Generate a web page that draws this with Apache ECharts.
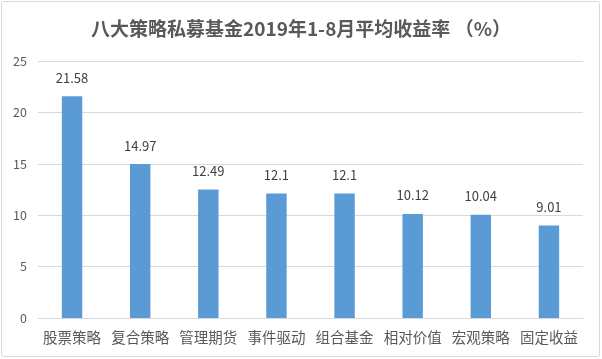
<!DOCTYPE html>
<html><head><meta charset="utf-8">
<script src="https://cdn.jsdelivr.net/npm/echarts@6/dist/echarts.min.js"></script>
<style>html,body{margin:0;padding:0;background:#fff}#c{width:602px;height:359px}</style>
</head><body><div id="c"></div>
<script>
const categories = ['股票策略','复合策略','管理期货','事件驱动','组合基金','相对价值','宏观策略','固定收益'];
const values = [21.58, 14.97, 12.49, 12.1, 12.1, 10.12, 10.04, 9.01];
const yTicks = [0, 5, 10, 15, 20, 25];
const titleText = '八大策略私募基金2019年1-8月平均收益率 （%）';
const font = '"Noto Sans CJK SC", "Noto Sans", sans-serif';
const chart = echarts.init(document.getElementById('c'));
chart.setOption({
  animation: false,
  textStyle: {fontFamily: font},
  graphic: [{type:'rect', shape:{x:1.5,y:1.5,width:598,height:355,r:2}, style:{fill:'none', stroke:'#d9d9d9', lineWidth:1}}],
  title: {text: titleText, left: 'center', top: 14, textStyle:{fontFamily: font, fontSize: 19, fontWeight: 'bold', color:'#595959'}},
  grid: {left: 38, right: 19, top: 61, bottom: 41, containLabel: false},
  xAxis: {type:'category', data: categories,
    axisLine:{lineStyle:{color:'#d9d9d9'}}, axisTick:{show:false},
    axisLabel:{fontSize:14.5, color:'#595959', margin:12, interval:0}},
  yAxis: {type:'value', min: yTicks[0], max: yTicks[yTicks.length-1], interval: 5,
    axisLine:{show:false}, axisTick:{show:false},
    splitLine:{lineStyle:{color:'#d9d9d9'}},
    axisLabel:{fontSize:12.5, color:'#595959', margin:11}},
  series: [{type:'bar', data: values, barWidth: '30%', itemStyle:{color:'#5B9BD5'},
    label:{show:true, position:'top', distance:12, fontSize:13, color:'#404040'}}]
});
</script></body></html>
